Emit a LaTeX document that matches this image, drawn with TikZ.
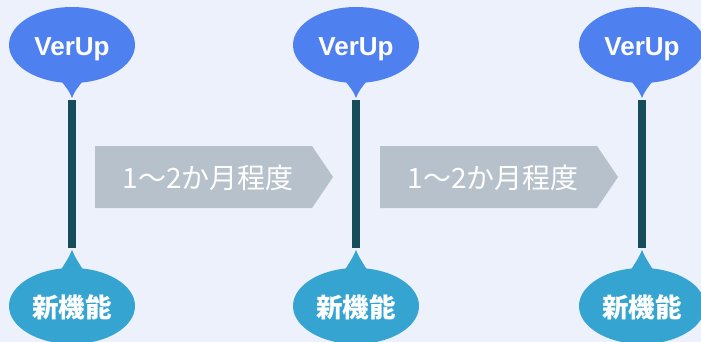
\documentclass[tikz,border=0pt]{standalone}
\usepackage{fontspec}
\setmainfont{Liberation Sans}
\newfontfamily\jp{Noto Sans CJK JP}
\usetikzlibrary{shapes.geometric,calc}
\definecolor{bg}{RGB}{237,241,252}
\definecolor{topblue}{RGB}{79,128,240}
\definecolor{botblue}{RGB}{53,164,208}
\definecolor{barcol}{RGB}{23,77,91}
\definecolor{arrowgray}{RGB}{183,193,203}
\tikzset{
  topel/.style={ellipse, fill=topblue, minimum width=126pt, minimum height=76pt, inner sep=0pt,
    text=white, font=\fontsize{26}{30}\selectfont\bfseries, text height=22pt, text depth=0pt},
  botel/.style={ellipse, fill=botblue, minimum width=126pt, minimum height=76pt, inner sep=0pt,
    text=white, font=\jp\fontsize{26.5}{30}\selectfont\bfseries, text height=22pt, text depth=0pt},
  barline/.style={draw=barcol, line width=8pt, shorten <=2pt, shorten >=2pt},
  spanlabel/.style={anchor=base, inner sep=0pt, text=white, font=\jp\fontsize{28}{30}\selectfont}
}
\begin{document}
\begin{tikzpicture}[x=1pt,y=-1pt]
\useasboundingbox (0,0) rectangle (701,342);
\fill[bg] (0,0) rectangle (701,342);
\foreach \i/\x in {1/72,2/356,3/642}{
  \coordinate (t\i) at (\x,98);
  \coordinate (u\i) at (\x,250);
  \node[topel] (v\i) at (\x,45) {VerUp};
  \node[botel] (f\i) at (\x,306) {新機能};
  \fill[topblue] ($(v\i.south)+(-13,-5)$) .. controls ($(t\i)+(-3,-7)$) .. (t\i)
     .. controls ($(t\i)+(3,-7)$) .. ($(v\i.south)+(13,-5)$) -- cycle;
  \fill[botblue] ($(f\i.north)+(-13,5)$) .. controls ($(u\i)+(-3,7)$) .. (u\i)
     .. controls ($(u\i)+(3,7)$) .. ($(f\i.north)+(13,5)$) -- cycle;
  \draw[barline] (t\i) -- (u\i);
}
\foreach \i/\x in {1/95,2/380}{
  \fill[arrowgray] (\x,146) -- (\x+217,146) -- (\x+238,177) -- (\x+217,208) -- (\x,208) -- cycle;
  \node[spanlabel] (p\i) at (\x+113,188) {1～2か月程度};
}
\end{tikzpicture}
\end{document}
